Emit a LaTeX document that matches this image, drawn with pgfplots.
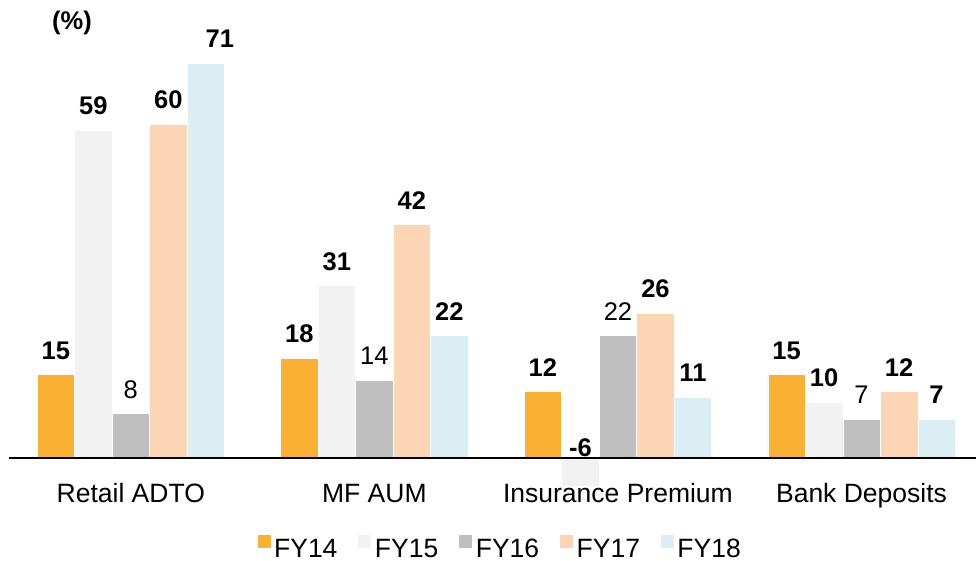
\documentclass[border=0pt]{standalone}
\usepackage{pgfplots}
\pgfplotsset{compat=1.18}
\usepackage{fontspec}
\setmainfont{Liberation Sans}
\definecolor{cA}{HTML}{FAB033}
\definecolor{cB}{HTML}{F2F2F2}
\definecolor{cC}{HTML}{BFBFBF}
\definecolor{cD}{HTML}{FCD5B4}
\definecolor{cE}{HTML}{DAEEF3}
\newcommand{\lfont}{\fontsize{26.5}{31}\selectfont}
\newcommand{\nfont}{\fontsize{25.5}{30}\selectfont}
\pgfplotsset{sqleg/.style={legend image code/.code={\fill[##1] (0pt,0.5pt) rectangle (14pt,14.5pt);}}}
\begin{document}
\begin{tikzpicture}
\begin{axis}[
  scale only axis, width=967pt, height=485.3pt,
  xmin=-0.5, xmax=3.47, ymin=-4.9, ymax=82.34,
  enlargelimits=false, clip mode=individual,
  axis line style={draw=none},
  xtick={0,1,2,3},
  xticklabels={Retail ADTO, MF AUM, Insurance Premium, Bank Deposits},
  xtick style={draw=none}, ytick=\empty,
  extra y ticks={0}, extra y tick labels={},
  extra y tick style={grid=major, major grid style={black, line width=1.5pt}, tick style={draw=none}},
  axis on top,
  xticklabel style={font=\lfont, anchor=base, inner sep=0pt, yshift=-13pt},
  ybar, bar width=0.154,
  point meta=explicit symbolic,
  nodes near coords={\pgfplotspointmeta},
  nodes near coords style={font=\bfseries\nfont, anchor=south, inner sep=0pt, yshift=15pt},
  legend style={at={(0.508,0)}, anchor=center, yshift=-62.7pt, draw=none, fill=none,
    legend columns=5, font=\lfont, inner sep=0pt,
    nodes={inner sep=3pt},
    /tikz/every even column/.append style={column sep=17pt}},
]
\addplot[fill=cA, draw=white, line width=0.5pt, bar shift=-0.308, sqleg]
  coordinates {(0,15)[15] (1,18)[18] (2,12)[12] (3,15)[15]};
\addplot[fill=cB, draw=white, line width=0.5pt, bar shift=-0.154, sqleg]
  coordinates {(0,59)[59] (1,31)[31] (2,-6)[] (3,10)[10]};
\addplot[fill=cC, draw=white, line width=0.5pt, bar shift=0, sqleg,
  nodes near coords style={font=\mdseries\nfont}]
  coordinates {(0,8)[8] (1,14)[14] (2,22)[22] (3,7)[7]};
\addplot[fill=cD, draw=white, line width=0.5pt, bar shift=0.154, sqleg]
  coordinates {(0,60)[60] (1,42)[42] (2,26)[26] (3,12)[12]};
\addplot[fill=cE, draw=white, line width=0.5pt, bar shift=0.308, sqleg]
  coordinates {(0,71)[] (1,22)[22] (2,11)[11] (3,7)[7]};
% labels set apart from their bars, as in the original
\addplot[forget plot, draw=none, fill=none, bar shift=-0.154,
  nodes near coords style={yshift=-14pt}]
  coordinates {(2,0)[-6]};
\addplot[forget plot, draw=none, fill=none, bar shift=0.308,
  nodes near coords style={xshift=14pt}]
  coordinates {(0,71)[71]};
\legend{FY14, FY15, FY16, FY17, FY18}
\node[font=\bfseries\nfont, anchor=center] at (rel axis cs:0.0651,0.9526) {(\%)};
\end{axis}
\pgfresetboundingbox
\path[use as bounding box] (current axis.south west) ++(-9pt,-75.7pt) rectangle (current axis.north east);
\end{tikzpicture}
\end{document}
